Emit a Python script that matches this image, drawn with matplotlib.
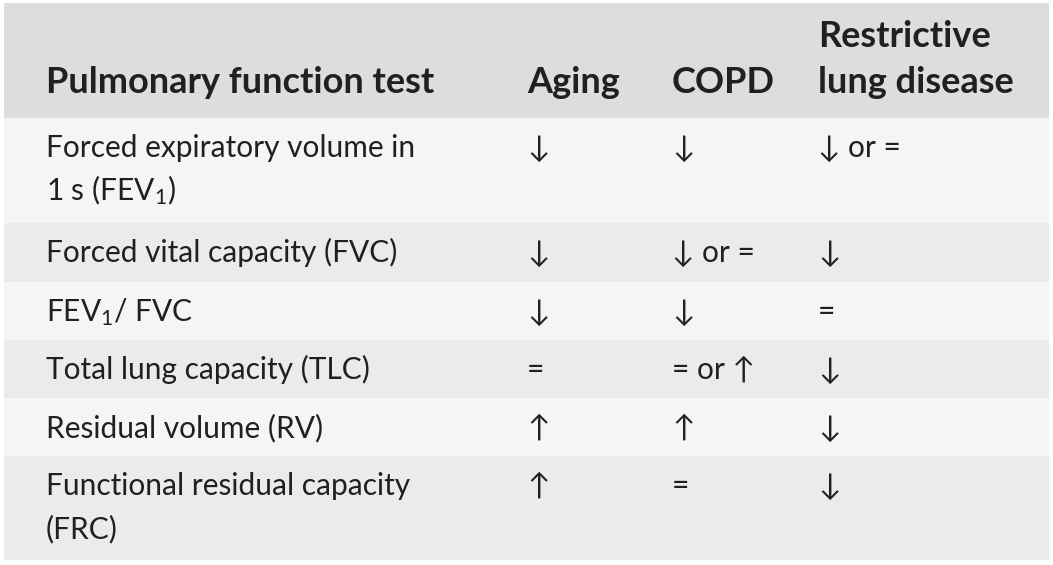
import matplotlib
matplotlib.use("Agg")
import matplotlib.pyplot as plt
from matplotlib.patches import Rectangle

# ---- data ----
headers = ["Pulmonary function test", "Aging", "COPD", "Restrictive\nlung disease"]
tests = [
    "Forced expiratory volume in\n1 s (FEV$_1$)",
    "Forced vital capacity (FVC)",
    "FEV$_1$/ FVC",
    "Total lung capacity (TLC)",
    "Residual volume (RV)",
    "Functional residual capacity\n(FRC)",
]
aging = ["↓", "↓", "↓", "=", "↑", "↑"]
copd = ["↓", "↓ or =", "↓", "= or ↑", "↑", "="]
restrictive = ["↓ or =", "↓", "=", "↓", "↓", "↓"]

# ---- layout (pixels) ----
W, H = 1053, 565
left, right = 4, 1049
row_edges = [3, 118, 223, 282, 340, 398, 456, 560]
col_x = [46, 527, 672, 818]
header_bg = "#dcdddf"
row_bgs = ["#f5f5f5", "#ebebeb"]
txt_color = "#231f20"

plt.rcParams["mathtext.fontset"] = "custom"
plt.rcParams["mathtext.default"] = "regular"
plt.rcParams["mathtext.rm"] = "Lato"

fig = plt.figure(figsize=(W / 100, H / 100), dpi=100)
ax = fig.add_axes([0, 0, 1, 1])
ax.set_xlim(0, W)
ax.set_ylim(H, 0)
ax.axis("off")

# header background
ax.add_patch(Rectangle((left, row_edges[0]), right - left, row_edges[1] - row_edges[0],
                       facecolor=header_bg, edgecolor="none"))
for i in range(len(tests)):
    y0, y1 = row_edges[i + 1], row_edges[i + 2]
    ax.add_patch(Rectangle((left, y0), right - left, y1 - y0,
                           facecolor=row_bgs[i % 2], edgecolor="none"))

hfam = ["Lato", "DejaVu Sans"]
for j, h in enumerate(headers):
    lines = h.split("\n")
    base = row_edges[1] - 25
    for k, line in enumerate(reversed(lines)):
        ax.text(col_x[j], base - k * 46, line, fontsize=26, fontweight="bold",
                family=hfam, color=txt_color, va="baseline", ha="left")

dfam = ["Lato", "DejaVu Sans"]
for i in range(len(tests)):
    top = row_edges[i + 1]
    lines = tests[i].split("\n")
    for k, line in enumerate(lines):
        ax.text(col_x[0], top + 39 + k * 43, line, fontsize=21.5, fontweight="normal",
                family=dfam, color=txt_color, va="baseline", ha="left")
    for j, vals in enumerate([aging, copd, restrictive]):
        ax.text(col_x[j + 1], top + 39, vals[i], fontsize=21.5, fontweight="normal",
                family=dfam, color=txt_color, va="baseline", ha="left")

fig.savefig("out.png", dpi=100, facecolor="white")
